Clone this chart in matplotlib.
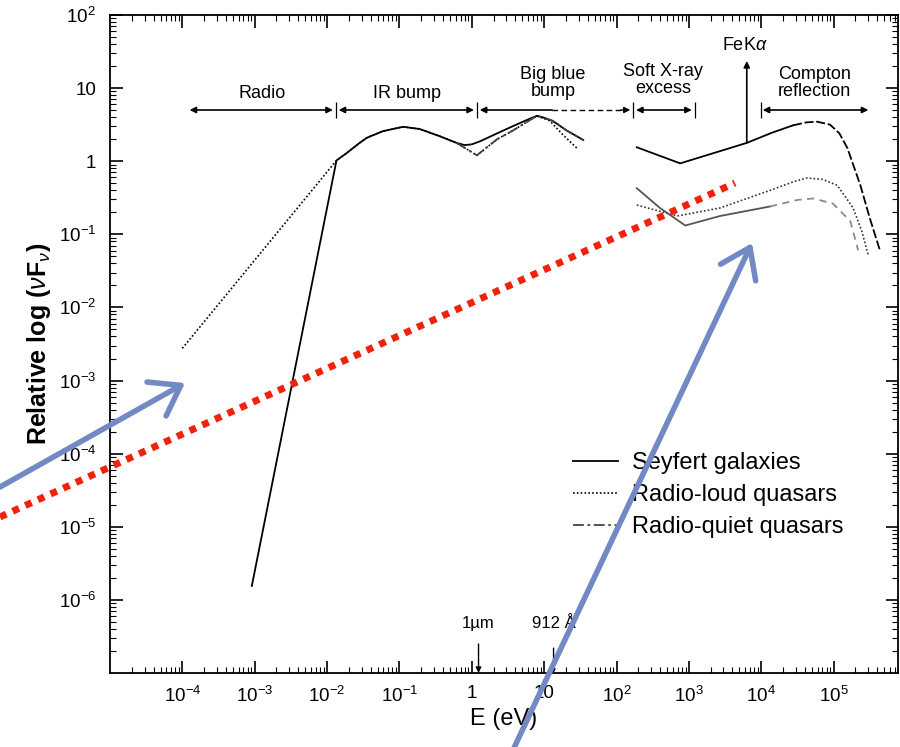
import numpy as np
import matplotlib.pyplot as plt
from matplotlib.lines import Line2D
from matplotlib.patches import FancyArrowPatch

plt.rcParams['font.family'] = ['Liberation Sans', 'DejaVu Sans']
plt.rcParams['mathtext.fontset'] = 'custom'
plt.rcParams['mathtext.rm'] = 'Liberation Sans'
plt.rcParams['mathtext.it'] = 'Liberation Sans:italic'
plt.rcParams['mathtext.bf'] = 'Liberation Sans:bold'

# all values are log10(E/eV) and log10(relative nuFnu)
sey_lo_x = [-3.04, -1.87, -1.73, -1.55, -1.45, -1.23, -0.95, -0.72, -0.44, -0.21,
            -0.10, 0.00, 0.11, 0.35, 0.57, 0.80, 0.90, 0.98, 1.12, 1.31, 1.54]
sey_lo_y = [-5.81, 0.01, 0.11, 0.25, 0.32, 0.41, 0.47, 0.44, 0.34, 0.25,
            0.22, 0.23, 0.27, 0.38, 0.48, 0.58, 0.62, 0.60, 0.55, 0.42, 0.29]
sey_x_x = [2.28, 2.88, 3.80, 4.15, 4.44]
sey_x_y = [0.19, -0.03, 0.25, 0.39, 0.49]
sey_hi_x = [4.44, 4.62, 4.77, 4.95, 5.08, 5.19, 5.37, 5.50, 5.64]
sey_hi_y = [0.49, 0.53, 0.54, 0.50, 0.38, 0.18, -0.33, -0.78, -1.22]

rl_lo_x = [-4.00, -1.87, -1.73, -1.55, -1.45, -1.23, -0.95, -0.72, -0.44, -0.21,
           0.07, 0.35, 0.57, 0.80, 0.90, 1.08, 1.26, 1.45]
rl_lo_y = [-2.56, 0.01, 0.11, 0.25, 0.32, 0.41, 0.47, 0.44, 0.34, 0.25,
           0.08, 0.30, 0.42, 0.56, 0.62, 0.55, 0.36, 0.18]
rl_x_x = [2.28, 2.84, 3.43, 4.12, 4.45, 4.63, 4.85, 5.05, 5.27, 5.39, 5.48]
rl_x_y = [-0.60, -0.75, -0.64, -0.40, -0.28, -0.23, -0.25, -0.33, -0.64, -0.96, -1.29]

rq_lo_x = [-0.21, 0.07, 0.35, 0.57, 0.80, 0.90, 0.98, 1.12, 1.31, 1.54]
rq_lo_y = [0.25, 0.08, 0.30, 0.42, 0.56, 0.62, 0.60, 0.55, 0.42, 0.29]
rq_x_x = [2.28, 2.60, 2.95, 3.43, 4.12]
rq_x_y = [-0.37, -0.64, -0.88, -0.75, -0.62]
rq_hi_x = [4.12, 4.50, 4.72, 4.99, 5.23, 5.34]
rq_hi_y = [-0.62, -0.53, -0.51, -0.58, -0.82, -1.22]

legend_labels = ['Seyfert galaxies', 'Radio-loud quasars', 'Radio-quiet quasars']

xtick_vals = [-4, -3, -2, -1, 0, 1, 2, 3, 4, 5]
xtick_labels = ['$10^{-4}$', '$10^{-3}$', '$10^{-2}$', '$10^{-1}$', '1', '10',
                '$10^{2}$', '$10^{3}$', '$10^{4}$', '$10^{5}$']
ytick_vals = [2, 1, 0, -1, -2, -3, -4, -5, -6]
ytick_labels = ['$10^{2}$', '10', '1', '$10^{-1}$', '$10^{-2}$', '$10^{-3}$',
                '$10^{-4}$', '$10^{-5}$', '$10^{-6}$']

# band markers along the top (log E)
band_y = 0.70
bars = [-1.88, 0.07, 2.23, 3.08, 4.00]


def p(v):
    return 10 ** np.asarray(v, dtype=float)


fig = plt.figure(figsize=(9, 7.47), dpi=100)
ax = fig.add_axes([0.1222, 0.0991, 0.8756, 0.8809])
ax.set_xscale('log')
ax.set_yscale('log')
ax.set_xlim(1e-5, 10 ** 5.89)
ax.set_ylim(1e-7, 1e2)

lw = 1.3
l1, = ax.plot(p(sey_lo_x), p(sey_lo_y), color='k', lw=lw)
ax.plot(p(sey_x_x), p(sey_x_y), color='k', lw=lw)
ax.plot(p(sey_hi_x), p(sey_hi_y), color='k', lw=lw, dashes=(5, 1.5))

l2, = ax.plot(p(rl_lo_x), p(rl_lo_y), color='k', lw=1.2, dashes=(1, 1.3))
ax.plot(p(rl_x_x), p(rl_x_y), color='#333333', lw=1.2, dashes=(1, 1.3))

l3, = ax.plot(p(rq_lo_x), p(rq_lo_y), color='#444444', lw=lw, dashes=(6, 2, 1.5, 2))
ax.plot(p(rq_x_x), p(rq_x_y), color='#555555', lw=lw)
ax.plot(p(rq_hi_x), p(rq_hi_y), color='#8a8a8a', lw=lw, dashes=(4, 3))

ax.legend([l1, l2, l3], legend_labels, loc='upper left', bbox_to_anchor=(0.561, 0.368),
          frameon=False, fontsize=17, handlelength=1.9, handletextpad=0.6,
          labelspacing=0.42)

# ticks
ax.set_xticks(p(xtick_vals))
ax.set_xticklabels(xtick_labels)
ax.set_yticks(p(ytick_vals))
ax.set_yticklabels(ytick_labels)
ax.xaxis.set_minor_locator(plt.LogLocator(base=10, subs=np.arange(2, 10), numticks=30))
ax.yaxis.set_minor_locator(plt.LogLocator(base=10, subs=np.arange(2, 10), numticks=30))
ax.xaxis.set_minor_formatter(plt.NullFormatter())
ax.yaxis.set_minor_formatter(plt.NullFormatter())
ax.tick_params(which='both', direction='in', top=True, right=True, labelsize=13.5)
ax.tick_params(which='major', length=9, width=1.2)
ax.tick_params(which='minor', length=4.5, width=0.8)
ax.tick_params(axis='x', pad=9)
ax.tick_params(axis='y', pad=10)
for s in ax.spines.values():
    s.set_linewidth(1.3)

ax.set_xlabel('E (eV)', fontsize=17, labelpad=2)
ax.set_ylabel(r'Relative log ($\nu\mathbf{F}_{\nu}$)', fontsize=18, fontweight='bold', labelpad=4)

# band arrows
yb = 10 ** band_y
aprops = dict(arrowstyle='<|-|>', color='k', lw=1.2, mutation_scale=9, shrinkA=0, shrinkB=0)
ax.annotate('', xy=(p(-1.92), yb), xytext=(p(-3.90), yb), arrowprops=aprops)
ax.annotate('', xy=(p(0.03), yb), xytext=(p(-1.84), yb), arrowprops=aprops)
ax.annotate('', xy=(p(0.11), yb), xytext=(p(1.11), yb),
            arrowprops=dict(arrowstyle='-|>', color='k', lw=1.2, mutation_scale=9, shrinkA=0, shrinkB=0))
ax.plot([p(1.11), p(2.08)], [yb, yb], color='k', lw=1.0, dashes=(4, 2.5))
ax.annotate('', xy=(p(2.19), yb), xytext=(p(2.06), yb),
            arrowprops=dict(arrowstyle='-|>', color='k', lw=1.0, mutation_scale=9, shrinkA=0, shrinkB=0))
ax.annotate('', xy=(p(3.04), yb), xytext=(p(2.27), yb), arrowprops=aprops)
ax.annotate('', xy=(p(5.48), yb), xytext=(p(4.02), yb), arrowprops=aprops)
ax.vlines(p(bars), 10 ** (band_y - 0.11), 10 ** (band_y + 0.11), color='k', lw=0.9)

# FeK alpha line
ax.annotate('', xy=(p(3.80), p(1.37)), xytext=(p(3.80), p(0.25)),
            arrowprops=dict(arrowstyle='-|>', color='k', lw=1.2, mutation_scale=9, shrinkA=0, shrinkB=0))

tkw = dict(ha='center', va='center', fontsize=13, linespacing=1.05)
ax.text(p(-2.90), p(0.93), 'Radio', **tkw)
ax.text(p(-0.89), p(0.93), 'IR bump', **tkw)
ax.text(p(1.12), p(1.07), 'Big blue\nbump', **tkw)
ax.text(p(2.64), p(1.11), 'Soft X-ray\nexcess', **tkw)
ax.text(p(3.78), p(1.58), r'FeK$\alpha$', **tkw)
ax.text(p(4.74), p(1.07), 'Compton\nreflection', **tkw)

# wavelength markers on the E axis
ax.annotate('1µm', xy=(p(0.093), 1e-7), xytext=(p(0.093), p(-6.33)), ha='center', va='center',
            fontsize=12, arrowprops=dict(arrowstyle='-|>', color='k', lw=1.0,
                                         mutation_scale=8, shrinkA=7, shrinkB=0))
ax.annotate('912 Å', xy=(p(1.13), 1e-7), xytext=(p(1.13), p(-6.33)), ha='center', va='center',
            fontsize=12, arrowprops=dict(arrowstyle='-|>', color='k', lw=1.0,
                                         mutation_scale=5, shrinkA=10, shrinkB=0))

# slide overlays (figure pixel positions, y from top)
W, H = 900.0, 747.0


def fp(x, y):
    return (x / W, 1 - y / H)


red = Line2D([0 / W, 735 / W], [1 - 517 / H, 1 - 183 / H], transform=fig.transFigure,
             color='#f0220e', lw=5, dashes=(1, 1), dash_capstyle='butt', zorder=10)
fig.add_artist(red)
for (x0, y0), (x1, y1) in [((0, 487), (185, 383)), ((513, 750), (752, 243))]:
    arr = FancyArrowPatch(fp(x0, y0), fp(x1, y1), transform=fig.transFigure,
                          arrowstyle='->,head_length=0.5,head_width=0.35', mutation_scale=40,
                          color='#7289c4', lw=4, shrinkA=0, shrinkB=0, zorder=11,
                          capstyle='round', joinstyle='round')
    fig.add_artist(arr)

fig.savefig('out.png', dpi=100)
